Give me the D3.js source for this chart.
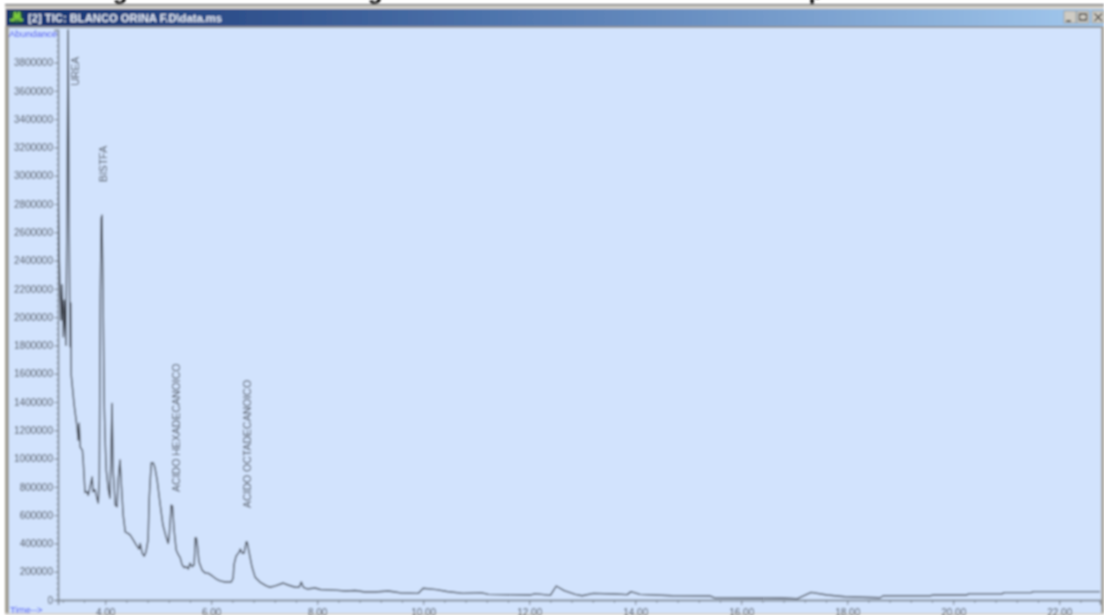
<!DOCTYPE html>
<html>
<head>
<meta charset="utf-8">
<title>TIC: BLANCO ORINA</title>
<script src="https://d3js.org/d3.v7.min.js"></script>
<style>
  * { margin: 0; padding: 0; }
  html, body { width: 1104px; height: 615px; overflow: hidden; background: #fff; }
  svg { display: block; }
  text { font-family: "Liberation Sans", Arial, sans-serif; }
</style>
</head>
<body>
<div id="chart"></div>
<script>
// retention time (min) and abundance
const times = [3.11,3.13,3.15,3.17,3.19,3.21,3.23,3.26,3.28,3.30,3.32,3.33,3.34,3.35,3.36,3.415,3.47,3.49,3.51,3.53,3.57,3.585,3.62,3.66,3.68,3.755,3.77,3.81,3.85,3.87,3.89,3.906,3.925,3.94,3.96,3.98,4.00,4.02,4.06,4.09,4.11,4.13,4.15,4.19,4.226,4.245,4.28,4.30,4.34,4.38,4.415,4.47,4.53,4.585,4.64,4.66,4.70,4.736,4.77,4.81,4.83,4.85,4.87,4.906,4.94,4.98,5.04,5.09,5.15,5.19,5.21,5.245,5.27,5.30,5.34,5.38,5.415,5.45,5.49,5.53,5.57,5.60,5.64,5.68,5.70,5.72,5.74,5.77,5.83,5.89,5.94,6.02,6.09,6.17,6.26,6.38,6.415,6.43,6.47,6.53,6.55,6.585,6.62,6.66,6.68,6.72,6.77,6.83,6.92,7.04,7.11,7.21,7.36,7.45,7.585,7.66,7.70,7.74,7.81,7.96,8.06,8.34,8.53,8.72,8.90,9.09,9.34,9.47,9.57,9.91,10.00,10.25,10.45,10.75,11.09,11.23,12.02,12.11,12.40,12.51,12.66,12.87,13.00,13.21,13.62,13.85,13.92,14.09,14.70,15.42,15.49,16.77,17.06,17.32,17.62,17.96,18.62,18.68,19.57,19.61,20.25,20.29,20.92,20.96,21.47,21.51,22.77];
const abundance = [2970000,2480000,2190000,1980000,2230000,1860000,2120000,1800000,2830000,4030000,2830000,2120000,1790000,2100000,1590000,1380000,1220000,1130000,1250000,1080000,1060000,990000,760000,765000,740000,870000,765000,780000,710000,686000,850000,2120000,2700000,2720000,2190000,1410000,1130000,920000,780000,720000,1060000,1390000,920000,670000,660000,850000,990000,850000,600000,480000,475000,460000,425000,390000,360000,400000,330000,310000,340000,425000,710000,850000,970000,970000,935000,850000,670000,530000,445000,400000,460000,670000,665000,495000,354000,320000,300000,250000,230000,235000,220000,260000,235000,250000,440000,440000,390000,270000,210000,190000,190000,170000,150000,135000,127000,127000,155000,250000,310000,340000,360000,330000,330000,410000,410000,330000,235000,160000,127000,100000,90000,100000,120000,106000,90000,90000,127000,90000,78000,85000,74000,70000,64000,67000,57000,57000,64000,57000,50000,47000,83000,73000,60000,47000,52000,40000,35000,45000,33000,99000,66000,40000,30000,47000,42000,38000,59000,40000,30000,28000,16000,14000,10000,54000,35000,23000,16000,30000,30000,35000,35000,43000,43000,52000,52000,59000,59000];

const yTicks = d3.range(0, 3800001, 200000);
const yMinor = d3.range(0, 4000001, 40000);
const xTicks = [4, 6, 8, 10, 12, 14, 16, 18, 20, 22];
const xMinor = d3.range(3.2, 22.8, 0.4);

const peakNames = ["UREA", "BISTFA", "ACIDO HEXADECANOICO", "ACIDO OCTADECANOICO"];
const peakTimes = [3.50, 4.04, 5.42, 6.76];
const peakLevels = [3635000, 2955000, 764000, 650000];

const width = 1104, height = 615;
const plot = { left: 58, right: 1100, top: 30, bottom: 600 };

const svg = d3.select("#chart").append("svg")
  .attr("width", width).attr("height", height);

const defs = svg.append("defs");
// the reference is a soft, upscaled screenshot
defs.append("filter").attr("id", "soft")
  .attr("x", "-2%").attr("y", "-2%").attr("width", "104%").attr("height", "104%")
  .append("feGaussianBlur").attr("stdDeviation", 0.8);
const grad = defs.append("linearGradient").attr("id", "titlebar");
grad.append("stop").attr("offset", "0").attr("stop-color", "#12306f");
grad.append("stop").attr("offset", "0.45").attr("stop-color", "#4f75ad");
grad.append("stop").attr("offset", "1").attr("stop-color", "#a3c9ee");
defs.append("clipPath").attr("id", "plot-clip").append("rect")
  .attr("x", plot.left).attr("y", plot.top - 2)
  .attr("width", plot.right - plot.left).attr("height", plot.bottom - plot.top + 3);

const root = svg.append("g").attr("filter", "url(#soft)");

// descenders of the cropped heading above the window
const headingBits = [["g", 120], ["g", 375], ["p", 816]];
root.selectAll(".heading").data(headingBits).join("text")
  .attr("class", "heading")
  .attr("x", d => d[1]).attr("y", -1)
  .attr("text-anchor", "middle")
  .attr("font-size", 24).attr("font-weight", "bold")
  .attr("fill", "#000")
  .text(d => d[0]);

// window frame
root.append("rect").attr("x", 5).attr("y", 4).attr("width", 1099).attr("height", 611).attr("fill", "#d6d3cc");
root.append("rect").attr("x", 5).attr("y", 4).attr("width", 1099).attr("height", 1.6).attr("fill", "#77777a");
root.append("rect").attr("x", 6).attr("y", 9).attr("width", 1098).attr("height", 17).attr("fill", "url(#titlebar)");
root.append("rect").attr("x", 6).attr("y", 26).attr("width", 1098).attr("height", 2).attr("fill", "#8f9296");
root.append("rect").attr("x", 5).attr("y", 26).attr("width", 4).attr("height", 587).attr("fill", "#a39f95");
root.append("rect").attr("x", 9).attr("y", 28).attr("width", 1092).attr("height", 585).attr("fill", "#d2e3fd");
root.append("rect").attr("x", 1101).attr("y", 26).attr("width", 3).attr("height", 587).attr("fill", "#a5a29a");

// title bar icon, caption and buttons
const icon = root.append("g");
icon.append("rect").attr("x", 10).attr("y", 11).attr("width", 13).attr("height", 13).attr("fill", "#1b4a4a");
icon.append("path").attr("d", "M10 20 L14 20 L15 12 L17 19 L19 12 L20 20 L23 20")
  .attr("fill", "none").attr("stroke", "#7fd03a").attr("stroke-width", 2);
root.append("text").attr("x", 28).attr("y", 22)
  .attr("font-size", 11.5).attr("font-weight", "bold").attr("fill", "#e6ecf6")
  .attr("font-family", "'DejaVu Sans', sans-serif").attr("textLength", 194).attr("lengthAdjust", "spacingAndGlyphs")
  .text("[2] TIC: BLANCO ORINA F.D\\data.ms");

const buttonX = [1064, 1077, 1092];
root.selectAll(".win-btn").data(buttonX).join("rect")
  .attr("class", "win-btn")
  .attr("x", d => d).attr("y", 11).attr("width", 12).attr("height", 12)
  .attr("fill", "#cfccc4").attr("stroke", "#8c8c88").attr("stroke-width", 0.6);
root.append("path").attr("d", "M1066 21 H1071 M1079.5 14 H1086.5 V20 H1079.5 Z M1094.5 13.5 L1102 21 M1102 13.5 L1094.5 21")
  .attr("fill", "none").attr("stroke", "#333").attr("stroke-width", 1.3);

// scales
const x = d3.scaleLinear().domain([3.11, 22.77]).range([plot.left, plot.right]);
const y = d3.scaleLinear().domain([0, 4030000]).range([plot.bottom, plot.top]);

// axes
const axisColor = "#7f8894", labelColor = "#474c54";

const yMinorG = root.append("g").attr("transform", `translate(${plot.left},0)`)
  .call(d3.axisLeft(y).tickValues(yMinor).tickSize(1.5).tickFormat(""));
const yG = root.append("g").attr("transform", `translate(${plot.left},0)`)
  .call(d3.axisLeft(y).tickValues(yTicks).tickSize(4).tickPadding(1).tickFormat(d3.format("d")));
const xMinorG = root.append("g").attr("transform", `translate(0,${plot.bottom})`)
  .call(d3.axisBottom(x).tickValues(xMinor).tickSize(3).tickFormat(""));
const xG = root.append("g").attr("transform", `translate(0,${plot.bottom})`)
  .call(d3.axisBottom(x).tickValues(xTicks).tickSize(5).tickPadding(4).tickFormat(d3.format(".2f")));

[yMinorG, yG, xMinorG, xG].forEach(g => {
  g.selectAll("path").attr("stroke", axisColor).attr("stroke-width", 1.4);
  g.selectAll("line").attr("stroke", axisColor);
  g.selectAll("text")
    .attr("fill", labelColor)
    .attr("font-size", 10)
    .style("font-family", "'Liberation Sans', Arial, sans-serif");
});

// axis captions
root.append("text").attr("x", 9).attr("y", 37)
  .attr("font-size", 9.5).attr("fill", "#3a46f0").text("Abundance");
root.append("text").attr("x", 10).attr("y", 613)
  .attr("font-size", 9.5).attr("fill", "#3a46f0").text("Time-->");

// trace
const trace = d3.line().x((d, i) => x(times[i])).y(d => y(d));
root.append("path")
  .attr("d", trace(abundance))
  .attr("clip-path", "url(#plot-clip)")
  .attr("fill", "none")
  .attr("stroke", "#3f454f")
  .attr("stroke-width", 1.4)
  .attr("stroke-linejoin", "round");

// peak names, rotated along the peak
root.selectAll(".peak").data(peakNames).join("text")
  .attr("class", "peak")
  .attr("transform", (d, i) => `translate(${x(peakTimes[i])},${y(peakLevels[i])}) rotate(-90)`)
  .attr("font-size", 10.5)
  .attr("fill", "#3f444c")
  .text(d => d);
</script>
</body>
</html>
